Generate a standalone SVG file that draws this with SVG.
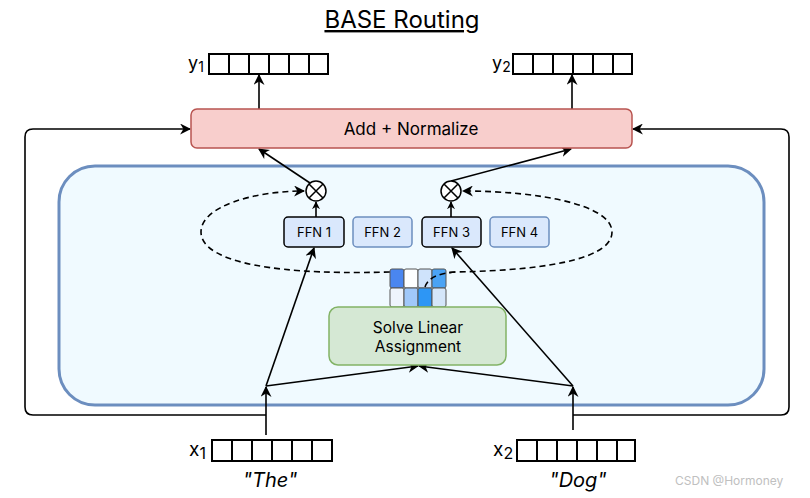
<svg xmlns="http://www.w3.org/2000/svg" width="810" height="498" viewBox="0 0 810 498">
<defs>
<marker id="ah" viewBox="0 0 10 10" refX="9" refY="5" markerWidth="8" markerHeight="8" markerUnits="userSpaceOnUse" orient="auto">
<path d="M0,0 L10,5 L0,10 L3,5 z" fill="#000"/>
</marker>
<marker id="ahs" viewBox="0 0 10 10" refX="9" refY="5" markerWidth="11" markerHeight="11" markerUnits="userSpaceOnUse" orient="auto">
<path d="M0,0 L10,5 L0,10 L3,5 z" fill="#000"/>
</marker>
</defs>
<style>
text{font-family:Inter,"Liberation Sans",sans-serif;fill:#000}
.c{stroke:#000;stroke-width:1.6;fill:none}
.cell{fill:#fff;stroke:#000;stroke-width:2}
.ffnA{fill:#dae8fc;stroke:#000;stroke-width:1.5}
.ffnB{fill:#dae8fc;stroke:#6c8ebf;stroke-width:1.5}
.m{stroke:#555;stroke-width:1}
</style>
<rect width="810" height="498" fill="#fff"/>

<text x="402" y="28" font-size="24" text-anchor="middle" text-decoration="underline">BASE Routing</text>

<g id="container">
<rect x="59" y="166" width="705" height="239" rx="36" fill="#f0faff" stroke="#6c8ebf" stroke-width="3"/>
</g>

<g id="connectors">
<path class="c" d="M266,415 H33 Q25,415 25,407 V137 Q25,129 33,129 H190" marker-end="url(#ahs)"/>
<path class="c" d="M573,415 H781 Q789,415 789,407 V137 Q789,129 781,129 H633" marker-end="url(#ahs)"/>
<path class="c" d="M259,109 V75" marker-end="url(#ahs)"/>
<path class="c" d="M572,109 V75" marker-end="url(#ahs)"/>
<path class="c" d="M310,183 L259,149" marker-end="url(#ahs)"/>
<path class="c" d="M451,181 L571,149" marker-end="url(#ahs)"/>
<path class="c" d="M316,217 V202" marker-end="url(#ah)"/>
<path class="c" d="M451,217 V202" marker-end="url(#ah)"/>
<path class="c" stroke-dasharray="6,4" d="M390,272 C250,276 201,256 201,232 C201,206 255,191 304,191" marker-end="url(#ahs)"/>
<path class="c" stroke-dasharray="6,4" d="M425,287 Q429,274 455,272 C560,270 612,256 612,232 C612,205 540,191 463,191" marker-end="url(#ahs)"/>
<path class="c" d="M266,435 V387" marker-end="url(#ahs)"/>
<path class="c" d="M573,430 V387" marker-end="url(#ahs)"/>
<path class="c" d="M266,386 L314,248" marker-end="url(#ahs)"/>
<path class="c" d="M266,386 L418,366" marker-end="url(#ahs)"/>
<path class="c" d="M573,386 L452,248" marker-end="url(#ahs)"/>
<path class="c" d="M573,386 L419,366" marker-end="url(#ahs)"/>
</g>

<g id="add-normalize">
<rect x="191" y="109" width="441" height="39" rx="6" fill="#f8cecc" stroke="#b85450" stroke-width="1.5"/>
<text x="411" y="135" font-size="17" text-anchor="middle">Add + Normalize</text>
</g>

<g id="y1">
<text x="188" y="69" font-size="18">y<tspan font-size="14" dy="3">1</tspan></text>
<rect class="cell" x="209" y="54" width="20" height="20"/>
<rect class="cell" x="229" y="54" width="20" height="20"/>
<rect class="cell" x="249" y="54" width="20" height="20"/>
<rect class="cell" x="269" y="54" width="20" height="20"/>
<rect class="cell" x="289" y="54" width="20" height="20"/>
<rect class="cell" x="309" y="54" width="19" height="20"/>
</g>
<g id="y2">
<text x="492" y="69" font-size="18">y<tspan font-size="14" dy="3">2</tspan></text>
<rect class="cell" x="513" y="54" width="20" height="20"/>
<rect class="cell" x="533" y="54" width="20" height="20"/>
<rect class="cell" x="553" y="54" width="20" height="20"/>
<rect class="cell" x="573" y="54" width="20" height="20"/>
<rect class="cell" x="593" y="54" width="20" height="20"/>
<rect class="cell" x="613" y="54" width="19" height="20"/>
</g>

<g id="mult1">
<circle cx="316" cy="191" r="10" fill="#fff" stroke="#000" stroke-width="1.5"/>
<path d="M309,184 L323,198 M323,184 L309,198" stroke="#000" stroke-width="1.5"/>
</g>
<g id="mult2">
<circle cx="451" cy="191" r="10" fill="#fff" stroke="#000" stroke-width="1.5"/>
<path d="M444,184 L458,198 M458,184 L444,198" stroke="#000" stroke-width="1.5"/>
</g>

<g id="ffn1"><rect class="ffnA" x="284" y="217" width="60" height="30" rx="4"/><text x="314" y="237" font-size="13" text-anchor="middle">FFN 1</text></g>
<g id="ffn2"><rect class="ffnB" x="353" y="217" width="59" height="30" rx="4"/><text x="382.5" y="237" font-size="13" text-anchor="middle">FFN 2</text></g>
<g id="ffn3"><rect class="ffnA" x="422" y="217" width="59" height="30" rx="4"/><text x="451.5" y="237" font-size="13" text-anchor="middle">FFN 3</text></g>
<g id="ffn4"><rect class="ffnB" x="490" y="217" width="59" height="30" rx="4"/><text x="519.5" y="237" font-size="13" text-anchor="middle">FFN 4</text></g>

<g id="matrix">
<rect class="m" x="390" y="269" width="14" height="19" rx="2" fill="#4a86f0"/>
<rect class="m" x="404" y="269" width="14" height="19" rx="2" fill="#fdfeff"/>
<rect class="m" x="418" y="269" width="14" height="19" rx="2" fill="#cfe3fb"/>
<rect class="m" x="432" y="269" width="14" height="19" rx="2" fill="#4aa3f5"/>
<rect class="m" x="390" y="288" width="14" height="19" rx="2" fill="#eef4fd"/>
<rect class="m" x="404" y="288" width="14" height="19" rx="2" fill="#a0c8fa"/>
<rect class="m" x="418" y="288" width="14" height="19" rx="2" fill="#2d96f5"/>
<rect class="m" x="432" y="288" width="14" height="19" rx="2" fill="#d4e6fa"/>
</g>
<path class="c" stroke-dasharray="6,4" d="M425,287 Q429,274 455,272"/>

<g id="solve">
<rect x="329" y="307" width="177" height="58" rx="9" fill="#d5e8d4" stroke="#82b366" stroke-width="1.5"/>
<text x="418" y="333" font-size="15.5" text-anchor="middle">Solve Linear</text>
<text x="418" y="352" font-size="15.5" text-anchor="middle">Assignment</text>
</g>

<g id="x1">
<text x="189" y="456" font-size="19">x<tspan font-size="16" dy="3">1</tspan></text>
<rect class="cell" x="212" y="440" width="20" height="21"/>
<rect class="cell" x="232" y="440" width="20" height="21"/>
<rect class="cell" x="252" y="440" width="20" height="21"/>
<rect class="cell" x="272" y="440" width="20" height="21"/>
<rect class="cell" x="292" y="440" width="20" height="21"/>
<rect class="cell" x="312" y="440" width="20" height="21"/>
<text x="270" y="487" font-size="20" font-style="italic" text-anchor="middle">"The"</text>
</g>
<g id="x2">
<text x="493" y="456" font-size="19">x<tspan font-size="16" dy="3">2</tspan></text>
<rect class="cell" x="517" y="440" width="20" height="21"/>
<rect class="cell" x="537" y="440" width="20" height="21"/>
<rect class="cell" x="557" y="440" width="20" height="21"/>
<rect class="cell" x="577" y="440" width="20" height="21"/>
<rect class="cell" x="597" y="440" width="20" height="21"/>
<rect class="cell" x="617" y="440" width="18" height="21"/>
<text x="578" y="487" font-size="20" font-style="italic" text-anchor="middle">"Dog"</text>
</g>

<text x="675" y="485" font-size="12" style="fill:#c0c0c0">CSDN @Hormoney</text>
</svg>
